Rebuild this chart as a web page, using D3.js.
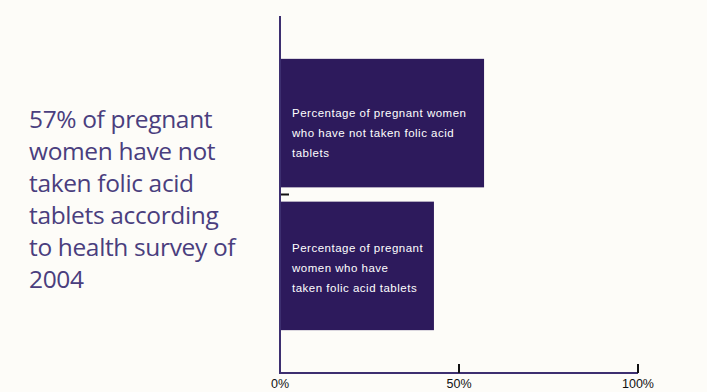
<!DOCTYPE html>
<html>
<head>
<meta charset="utf-8">
<script src="https://cdn.jsdelivr.net/npm/d3@7"></script>
<style>
  html, body { margin: 0; padding: 0; background: #fdfcf8; }
  svg { display: block; }
</style>
</head>
<body>
<svg id="chart" width="707" height="392"></svg>
<script>
// Folic acid survey data
const categories = ["not taken", "taken"];
const values = [57, 43];
const barLabels = [
  ["Percentage of pregnant women", "who have not taken folic acid", "tablets"],
  ["Percentage of pregnant", "women who have", "taken folic acid tablets"]
];
const tickValues = [0, 50, 100];
const tickLabels = ["0%", "50%", "100%"];
const headline = [
  "57% of pregnant",
  "women have not",
  "taken folic acid",
  "tablets according",
  "to health survey of",
  "2004"
];

const svg = d3.select("#chart");
const W = 707, H = 392;
svg.append("rect").attr("width", W).attr("height", H).attr("fill", "#fdfcf8");

const x0 = 280, x1 = 638, yTop = 16, yBot = 373;
const x = d3.scaleLinear().domain([0, 100]).range([x0, x1]);
const y = d3.scaleBand().domain(categories).range([yTop, yBot])
  .paddingInner(0.1).paddingOuter(0.3);

const barColor = "#2d1a5c";
const axisColor = "#3d2f70";

// Bars
svg.selectAll("rect.bar").data(categories).join("rect")
  .attr("class", "bar")
  .attr("x", x(0))
  .attr("y", d => y(d))
  .attr("width", (d, i) => x(values[i]) - x(0))
  .attr("height", y.bandwidth())
  .attr("fill", barColor);

// Bar labels: first baseline offset from the bar top
const labelTop = [58, 50];
categories.forEach((c, i) => {
  const t = svg.append("text")
    .attr("font-family", "Liberation Sans, Arial, sans-serif")
    .attr("font-size", 11.5)
    .attr("letter-spacing", 0.5)
    .attr("fill", "#ffffff");
  barLabels[i].forEach((line, k) => {
    t.append("tspan")
      .attr("x", x(0) + 12)
      .attr("y", y(c) + labelTop[i] + k * 20)
      .text(line);
  });
});

// Axis lines
svg.append("line")
  .attr("x1", x(0)).attr("x2", x(0))
  .attr("y1", yTop).attr("y2", yBot)
  .attr("stroke", axisColor).attr("stroke-width", 2);
svg.append("line")
  .attr("x1", x(0) - 1).attr("x2", x(100))
  .attr("y1", yBot).attr("y2", yBot)
  .attr("stroke", axisColor).attr("stroke-width", 2);

// Tick between the two bars on the category axis
const midY = (y(categories[0]) + y.bandwidth() + y(categories[1])) / 2;
svg.append("line")
  .attr("x1", x(0) + 1).attr("x2", x(0) + 9)
  .attr("y1", midY).attr("y2", midY)
  .attr("stroke", "#111").attr("stroke-width", 2);

// Value axis ticks and labels
tickValues.forEach((v, i) => {
  if (v > 0) {
    svg.append("line")
      .attr("x1", x(v)).attr("x2", x(v))
      .attr("y1", yBot).attr("y2", yBot - 9)
      .attr("stroke", "#111").attr("stroke-width", 2);
  }
  svg.append("text")
    .attr("x", x(v))
    .attr("y", yBot + 15)
    .attr("text-anchor", "middle")
    .attr("font-family", "Liberation Sans, Arial, sans-serif")
    .attr("font-size", 12.5)
    .attr("fill", "#111")
    .text(tickLabels[i]);
});

// Headline text
const head = svg.append("text")
  .attr("font-family", "Open Sans, sans-serif")
  .attr("font-size", 24.5)
  .attr("letter-spacing", -0.35)
  .attr("fill", "#4a3e7e");
headline.forEach((line, k) => {
  head.append("tspan").attr("x", 29).attr("y", 128 + k * 32).text(line);
});
</script>
</body>
</html>
